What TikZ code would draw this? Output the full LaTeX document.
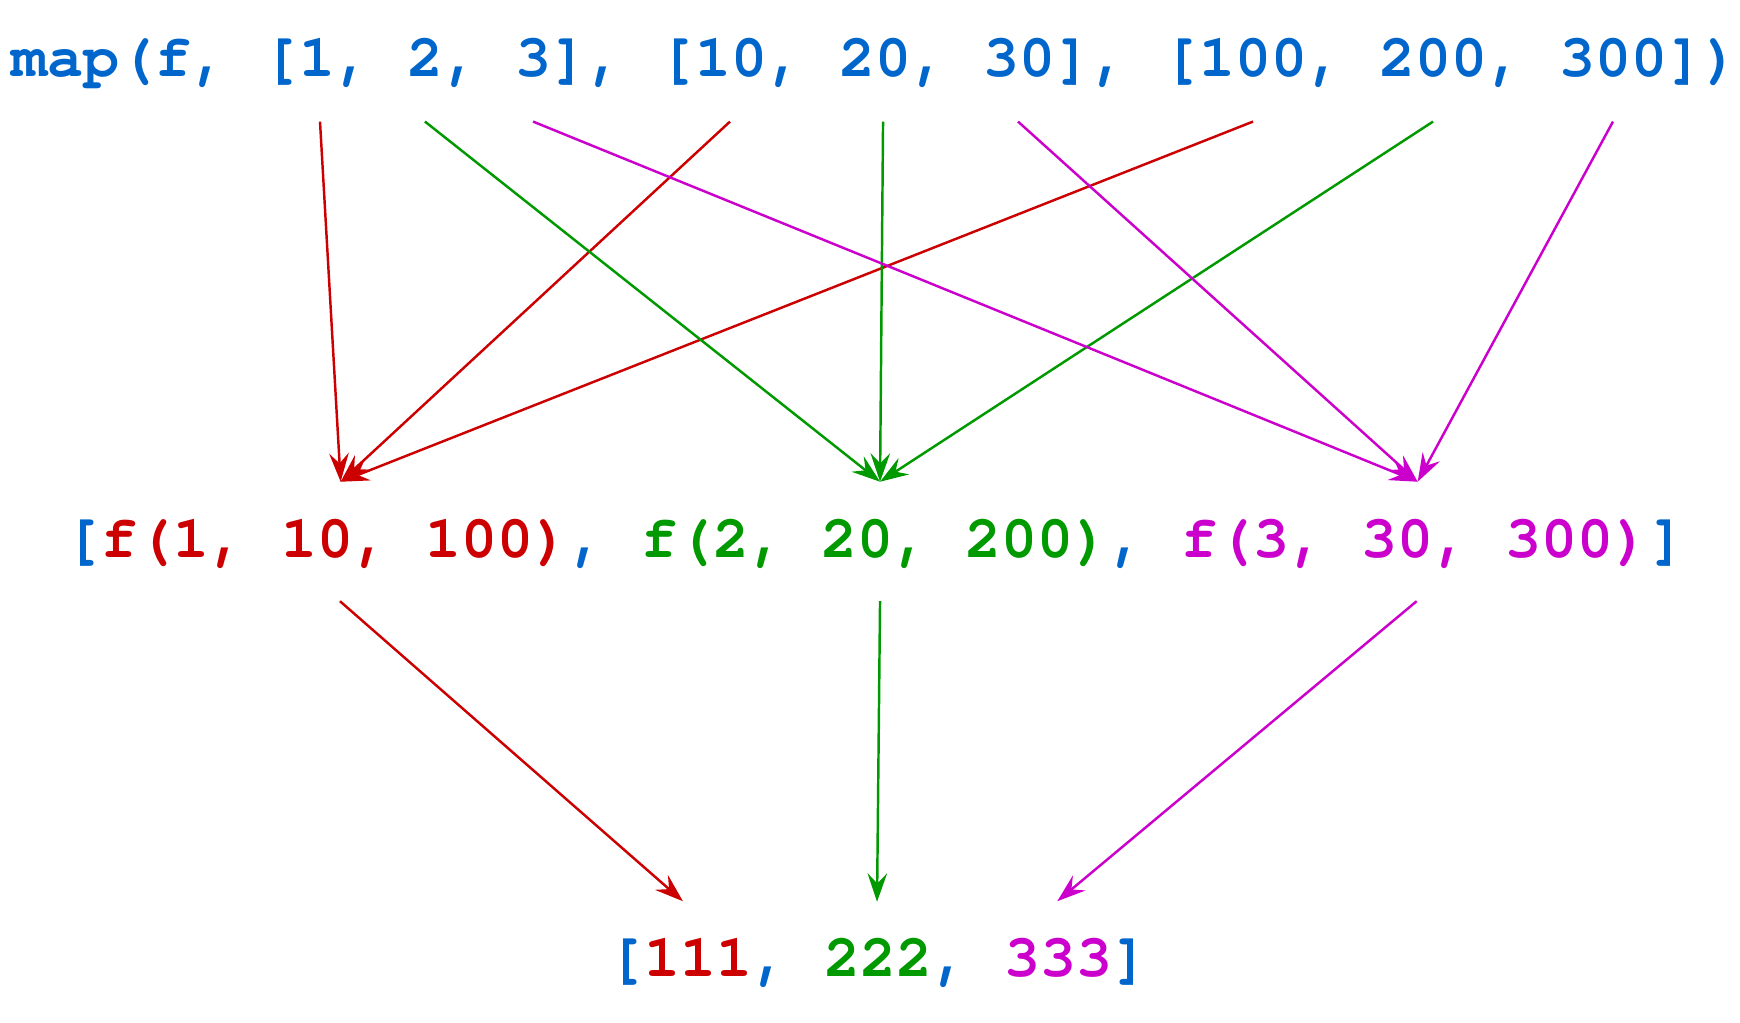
\documentclass[tikz,border=0pt]{standalone}
\usepackage{fontspec}
\setmonofont{TeX Gyre Cursor}
\usetikzlibrary{arrows.meta}
\definecolor{cblue}{RGB}{0,102,204}
\definecolor{cred}{RGB}{204,0,0}
\definecolor{cgreen}{RGB}{0,153,0}
\definecolor{cmag}{RGB}{204,0,204}
\frenchspacing
\begin{document}
\begin{tikzpicture}[x=1pt,y=-1pt,
  code/.style={inner sep=0pt, anchor=base west, font=\ttfamily\bfseries\fontsize{53.8}{60}\selectfont, text=cblue},
  link/.style={line width=2.2pt, -{Stealth[length=25.5pt,width=17.5pt,inset=9pt]}}]
\useasboundingbox (0,0) rectangle (1560,917);
\node[code] (top) at (9.9,69) {map(f, [1, 2, 3], [10, 20, 30], [100, 200, 300])};
\node[code] (mid) at (58.3,499.4) {[\textcolor{cred}{f(1, 10, 100)}, \textcolor{cgreen}{f(2, 20, 200)}, \textcolor{cmag}{f(3, 30, 300)}]};
\node[code] (bot) at (545.1,875.9) {[\textcolor{cred}{111}, \textcolor{cgreen}{222}, \textcolor{cmag}{333}]};
% start points on the top line
\coordinate (a1) at (286.9,109);
\coordinate (b1) at (381.0,109);
\coordinate (c1) at (477.9,109);
\coordinate (a2) at (654.5,109);
\coordinate (b2) at (791.7,109);
\coordinate (c2) at (912.7,109);
\coordinate (a3) at (1123.4,109);
\coordinate (b3) at (1284.8,109);
\coordinate (c3) at (1446.1,109);
% targets on the middle line
\coordinate (ra) at (305.4,431.9);
\coordinate (ga) at (789,431.9);
\coordinate (ma) at (1271,431.9);
% middle line starts
\coordinate (r2) at (304.8,539);
\coordinate (g2) at (789,539);
\coordinate (m2) at (1270.1,539);
% bottom targets
\coordinate (r3) at (612.3,808);
\coordinate (g3) at (786.3,808.5);
\coordinate (m3) at (947.9,808);
\draw[link,cred] (a1) -- (ra);
\draw[link,cred] (a2) -- (ra);
\draw[link,cred] (a3) -- (ra);
\draw[link,cgreen] (b1) -- (ga);
\draw[link,cgreen] (b2) -- (ga);
\draw[link,cgreen] (b3) -- (ga);
\draw[link,cmag] (c1) -- (ma);
\draw[link,cmag] (c2) -- (ma);
\draw[link,cmag] (c3) -- (ma);
\draw[link,cred] (r2) -- (r3);
\draw[link,cgreen] (g2) -- (g3);
\draw[link,cmag] (m2) -- (m3);
\end{tikzpicture}
\end{document}
